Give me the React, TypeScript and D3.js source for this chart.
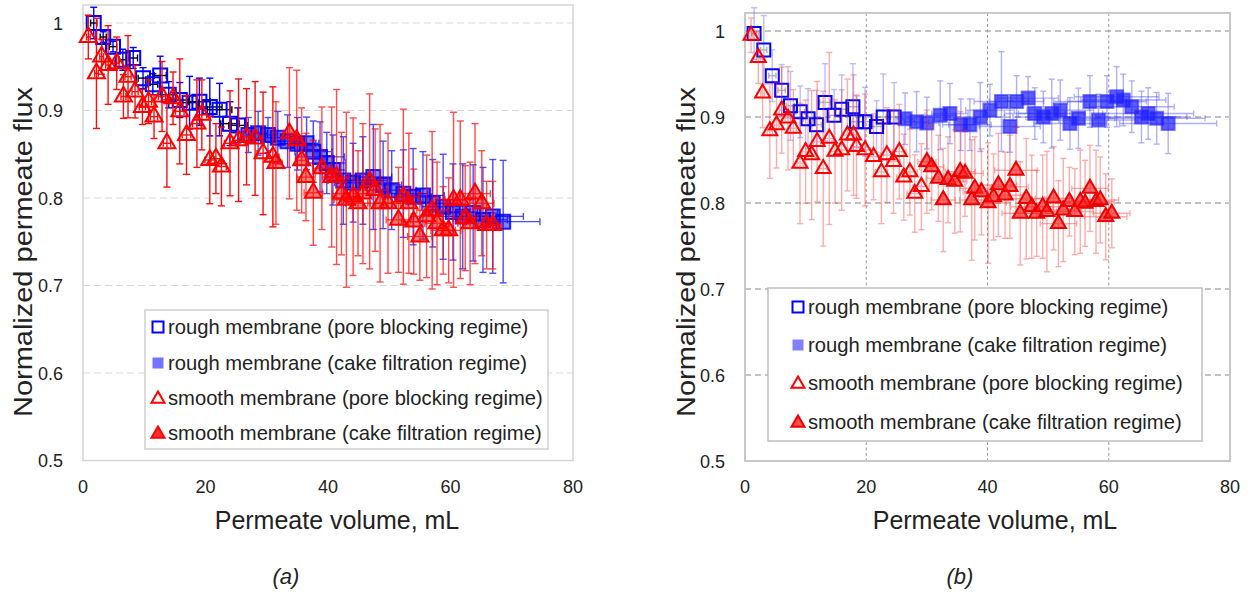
import React from 'react';
import * as d3 from 'd3';

// ---------- DATA: [volume mL, normalized flux, y error, x error] ----------
// Panel (a)
const aRoughPore: number[][] = [
  [1.75, 1.0, 0.018, 0.5], [3.3, 0.984, 0.006, 0.5], [4.9, 0.973, 0.006, 0.6], [6.5, 0.958, 0.012, 0.6],
  [8.2, 0.96, 0.012, 0.7], [9.8, 0.937, 0.012, 0.8], [11.4, 0.93, 0.012, 0.8], [12.6, 0.94, 0.022, 1.0],
  [14.0, 0.918, 0.015, 1.2], [15.8, 0.912, 0.02, 1.5], [17.4, 0.909, 0.03, 1.5], [19.0, 0.91, 0.027, 1.8],
  [20.7, 0.904, 0.033, 2.0], [22.3, 0.901, 0.03, 2.0], [24.0, 0.885, 0.025, 1.5], [25.3, 0.883, 0.02, 1.5],
];
const aRoughCake: number[][] = [
  [27.0, 0.872, 0.02, 1], [28.6, 0.874, 0.025, 1.5], [30.2, 0.872, 0.02, 1.5], [31.8, 0.869, 0.03, 2],
  [33.4, 0.865, 0.03, 2.5], [35.0, 0.862, 0.03, 3], [36.5, 0.8625, 0.03, 2], [37.6, 0.853, 0.035, 3],
  [38.7, 0.847, 0.04, 4], [39.8, 0.84, 0.035, 3], [40.8, 0.832, 0.04, 2], [42.5, 0.82, 0.05, 2.5],
  [44.1, 0.8175, 0.045, 3], [45.7, 0.82, 0.05, 4], [47.4, 0.824, 0.06, 3], [49.0, 0.815, 0.05, 3],
  [50.4, 0.809, 0.045, 4], [52.3, 0.805, 0.05, 4], [53.9, 0.8015, 0.055, 3], [55.5, 0.803, 0.05, 3.5],
  [57.1, 0.794, 0.05, 4], [58.8, 0.79, 0.06, 3.5], [60.4, 0.784, 0.055, 4], [62.0, 0.779, 0.06, 5],
  [63.7, 0.783, 0.055, 4], [65.3, 0.775, 0.06, 4], [66.9, 0.779, 0.065, 5], [68.6, 0.773, 0.07, 6],
];
const aSmoothPore: number[][] = [
  [0.87, 0.984, 0.025, 0.3], [2.2, 0.9425, 0.063, 0.3], [3.05, 0.9615, 0.02, 0.3], [4.1, 0.952, 0.045, 0.4],
  [5.5, 0.954, 0.03, 0.4], [6.6, 0.916, 0.025, 0.4], [7.35, 0.9386, 0.047, 0.5], [8.5, 0.9215, 0.03, 0.5],
  [9.7, 0.904, 0.02, 0.5], [10.7, 0.91, 0.025, 0.5], [11.6, 0.893, 0.025, 0.6], [12.9, 0.916, 0.04, 0.6],
  [13.7, 0.8625, 0.05, 0.6], [14.7, 0.914, 0.03, 0.6], [15.8, 0.899, 0.06, 0.7], [16.9, 0.872, 0.045, 0.7],
  [18.6, 0.885, 0.05, 0.7], [19.4, 0.895, 0.04, 0.8], [20.7, 0.8434, 0.05, 0.8], [21.7, 0.845, 0.04, 0.8],
  [22.6, 0.836, 0.045, 0.8], [24.0, 0.8625, 0.06, 0.9], [25.4, 0.866, 0.07, 0.9], [26.7, 0.87, 0.055, 1],
  [28.1, 0.868, 0.065, 1], [29.4, 0.851, 0.07, 1], [31.0, 0.847, 0.08, 1],
];
const aSmoothCake: number[][] = [
  [31.5, 0.84, 0.07, 1], [33.7, 0.874, 0.075, 1], [34.9, 0.866, 0.08, 1], [35.7, 0.843, 0.06, 1],
  [36.4, 0.824, 0.05, 1.5], [37.6, 0.806, 0.06, 1.5], [39.0, 0.834, 0.07, 1.5], [40.6, 0.824, 0.08, 1.5],
  [41.4, 0.824, 0.1, 2], [42.2, 0.805, 0.07, 1.5], [43.0, 0.798, 0.1, 2], [44.1, 0.8015, 0.09, 1.5],
  [44.9, 0.794, 0.06, 2], [45.7, 0.805, 0.08, 1.5], [46.8, 0.819, 0.1, 2], [47.7, 0.809, 0.07, 2],
  [48.5, 0.794, 0.09, 2], [49.8, 0.794, 0.08, 2], [51.5, 0.775, 0.06, 2], [52.3, 0.8015, 0.1, 2.5],
  [53.2, 0.794, 0.08, 2], [54.0, 0.773, 0.06, 2], [55.0, 0.756, 0.05, 2], [56.1, 0.779, 0.07, 2.5],
  [57.0, 0.786, 0.09, 2.5], [57.8, 0.771, 0.07, 2], [58.8, 0.763, 0.05, 2], [59.7, 0.763, 0.06, 2],
  [60.5, 0.798, 0.1, 3], [61.6, 0.798, 0.09, 2.5], [62.4, 0.777, 0.06, 2], [63.2, 0.771, 0.07, 2],
  [64.0, 0.805, 0.08, 2.5], [65.1, 0.794, 0.06, 2], [65.9, 0.769, 0.05, 2], [66.9, 0.769, 0.05, 1.5],
];

// Panel (b)
const bRoughPore: number[][] = [
  [1.5, 0.997, 0.03, 0.4], [3.1, 0.978, 0.04, 0.5], [4.5, 0.948, 0.03, 0.6], [6.05, 0.931, 0.03, 0.6],
  [7.5, 0.913, 0.04, 0.7], [9.1, 0.906, 0.03, 0.7], [10.4, 0.898, 0.035, 0.8], [11.8, 0.891, 0.04, 0.8],
  [13.2, 0.917, 0.045, 0.9], [14.7, 0.902, 0.03, 0.9], [15.95, 0.909, 0.04, 1], [17.8, 0.912, 0.05, 1],
  [18.4, 0.8945, 0.03, 1], [19.8, 0.8945, 0.04, 1.1], [21.7, 0.889, 0.03, 1.2], [22.8, 0.9, 0.05, 1.2],
  [24.6, 0.9, 0.04, 1.3],
];
const bRoughCake: number[][] = [
  [26.4, 0.898, 0.03, 1.5], [28.3, 0.8945, 0.035, 2], [30.0, 0.893, 0.03, 2], [32.2, 0.902, 0.04, 2.5],
  [33.8, 0.904, 0.035, 3], [35.6, 0.891, 0.03, 3], [37.1, 0.891, 0.03, 3.5], [38.8, 0.9, 0.04, 4],
  [40.4, 0.908, 0.03, 4], [42.3, 0.918, 0.058, 4.5], [43.7, 0.889, 0.03, 5], [44.8, 0.918, 0.03, 4.5],
  [46.7, 0.922, 0.025, 5], [47.8, 0.904, 0.03, 5], [49.2, 0.9, 0.03, 5], [50.6, 0.904, 0.04, 5.5],
  [52.0, 0.908, 0.035, 5.5], [53.6, 0.8925, 0.03, 6], [55.0, 0.8985, 0.035, 6], [56.9, 0.918, 0.03, 6],
  [58.3, 0.8965, 0.03, 6.5], [59.7, 0.918, 0.03, 6.5], [61.3, 0.9236, 0.035, 7], [62.4, 0.9198, 0.03, 7],
  [63.8, 0.912, 0.03, 7], [65.4, 0.9, 0.03, 7.5], [66.5, 0.904, 0.03, 7.5], [67.9, 0.8985, 0.03, 8],
  [69.8, 0.8925, 0.035, 8],
];
const bSmoothPore: number[][] = [
  [1.0, 0.995, 0.02, 0.3], [2.2, 0.969, 0.03, 0.3], [2.9, 0.9276, 0.04, 0.3], [4.1, 0.8837, 0.055, 0.4],
  [5.2, 0.8907, 0.05, 0.4], [6.05, 0.908, 0.05, 0.4], [7.1, 0.8985, 0.06, 0.5], [7.97, 0.8868, 0.045, 0.5],
  [9.07, 0.846, 0.07, 0.5], [10.0, 0.8597, 0.06, 0.6], [11.0, 0.8558, 0.075, 0.6], [11.9, 0.8713, 0.07, 0.6],
  [12.9, 0.84, 0.09, 0.7], [13.9, 0.875, 0.1, 0.7], [14.85, 0.86, 0.06, 0.7], [15.95, 0.8616, 0.07, 0.8],
  [16.9, 0.879, 0.065, 0.8], [17.9, 0.879, 0.07, 0.8], [18.4, 0.8655, 0.06, 0.9], [19.8, 0.8616, 0.065, 0.9],
  [21.2, 0.8538, 0.05, 1], [22.5, 0.836, 0.06, 1], [23.4, 0.8558, 0.055, 1], [24.5, 0.848, 0.06, 1.1],
  [25.45, 0.8597, 0.055, 1.1], [26.2, 0.83, 0.05, 1.2], [27.2, 0.836, 0.05, 1.2], [28.0, 0.811, 0.045, 1.3],
  [29.1, 0.819, 0.05, 1.3],
];
const bSmoothCake: number[][] = [
  [30.0, 0.848, 0.06, 1.5], [30.8, 0.842, 0.05, 2], [31.9, 0.8287, 0.05, 2], [32.7, 0.8035, 0.06, 2],
  [33.5, 0.827, 0.05, 2.5], [34.6, 0.825, 0.06, 2], [35.5, 0.8364, 0.07, 2.5], [36.3, 0.8345, 0.05, 3],
  [37.4, 0.8035, 0.07, 2], [37.9, 0.817, 0.06, 2.5], [39.0, 0.813, 0.05, 3], [40.1, 0.8, 0.07, 3],
  [41.0, 0.807, 0.05, 2.5], [41.8, 0.821, 0.06, 3], [42.9, 0.809, 0.05, 3], [43.7, 0.819, 0.06, 3],
  [44.7, 0.838, 0.05, 3.5], [45.4, 0.788, 0.06, 3], [46.4, 0.805, 0.07, 3], [47.3, 0.7957, 0.06, 3.5],
  [48.1, 0.788, 0.05, 3], [49.1, 0.7957, 0.06, 3], [49.8, 0.79, 0.07, 3.5], [50.9, 0.8055, 0.06, 3],
  [51.7, 0.776, 0.05, 3], [52.5, 0.7918, 0.06, 3], [53.5, 0.8015, 0.04, 3.5], [54.4, 0.79, 0.05, 3],
  [55.3, 0.8015, 0.06, 3], [56.1, 0.7996, 0.05, 3.5], [56.9, 0.817, 0.05, 3], [57.9, 0.8015, 0.06, 3],
  [58.6, 0.8035, 0.05, 3], [59.5, 0.784, 0.05, 3.5], [60.5, 0.788, 0.04, 3],
];

const xTicks = [0, 20, 40, 60, 80];
const yTicks = [0.5, 0.6, 0.7, 0.8, 0.9, 1];
const legendLabels = [
  'rough membrane (pore blocking regime)',
  'rough membrane (cake filtration regime)',
  'smooth membrane (pore blocking regime)',
  'smooth membrane (cake filtration regime)',
];

const FONT = "'Liberation Sans', Arial, sans-serif";

type MarkerKind = 'openSq' | 'fillSq' | 'openTri' | 'fillTri';

interface SeriesStyle {
  kind: MarkerKind;
  size: number;
  stroke: string;
  fill: string;
  strokeOpacity: number;
  fillOpacity: number;
  yErrColor: string;
  xErrColor: string;
  errOpacity: number;
}

function markerPath(kind: MarkerKind, s: number): string {
  if (kind === 'openSq' || kind === 'fillSq') {
    const h = s / 2;
    return `M${-h},${-h}H${h}V${h}H${-h}Z`;
  }
  const h = (s * Math.sqrt(3)) / 2;
  return `M0,${(-2 * h) / 3}L${s / 2},${h / 3}L${-s / 2},${h / 3}Z`;
}

interface PanelCfg {
  x0: number; x1: number; yBot: number; yOne: number; yMax: number;
  grid: 'a' | 'b';
  styles: SeriesStyle[];
  data: number[][][];
  legend: { x: number; y: number; w: number; h: number; rows: number[]; mx: number; tx: number };
  label: string; labelX: number;
  yTitleX: number; yTitleY: number; xTitleX: number;
}

function Panel({ cfg }: { cfg: PanelCfg }) {
  const x = d3.scaleLinear().domain([0, 80]).range([cfg.x0, cfg.x1]);
  const y = d3.scaleLinear().domain([0.5, 1]).range([cfg.yBot, cfg.yOne]);
  const top = y(cfg.yMax);
  const cap = cfg.grid === 'a' ? 3.5 : 3;
  const isA = cfg.grid === 'a';
  return (
    <g>
      {/* grid */}
      {yTicks.filter((t) => t > 0.5).map((t) => (
        <line key={'gy' + t} x1={cfg.x0} x2={cfg.x1} y1={y(t)} y2={y(t)}
          stroke={isA ? '#d9d9d9' : '#b0b0b0'} strokeWidth={isA ? 1.2 : 1.6} strokeDasharray={isA ? '7,4' : '6,4'} />
      ))}
      {!isA && xTicks.filter((t) => t > 0 && t < 80).map((t) => (
        <line key={'gx' + t} x1={x(t)} x2={x(t)} y1={top} y2={cfg.yBot}
          stroke="#9a9a9a" strokeWidth={1} strokeDasharray="3,2.5" />
      ))}
      {/* frame */}
      <rect x={cfg.x0} y={top} width={cfg.x1 - cfg.x0} height={cfg.yBot - top} fill="none"
        stroke={isA ? '#d4d4d4' : '#c8c8c8'} strokeWidth={isA ? 1.5 : 2} />
      {/* series */}
      {cfg.data.map((ser, si) => {
        const st = cfg.styles[si];
        return (
          <g key={'s' + si}>
            {ser.map((p, i) => {
              const cx = x(p[0]), cy = y(p[1]);
              const yt = y(p[1] + p[2]), yb = y(p[1] - p[2]);
              const xl = x(p[0] - p[3]), xr = x(p[0] + p[3]);
              return (
                <g key={'e' + i} strokeWidth={1.4} opacity={st.errOpacity}>
                  <line x1={cx} x2={cx} y1={yt} y2={yb} stroke={st.yErrColor} />
                  <line x1={cx - cap} x2={cx + cap} y1={yt} y2={yt} stroke={st.yErrColor} />
                  <line x1={cx - cap} x2={cx + cap} y1={yb} y2={yb} stroke={st.yErrColor} />
                  <line x1={xl} x2={xr} y1={cy} y2={cy} stroke={st.xErrColor} />
                  <line x1={xl} x2={xl} y1={cy - cap} y2={cy + cap} stroke={st.xErrColor} />
                  <line x1={xr} x2={xr} y1={cy - cap} y2={cy + cap} stroke={st.xErrColor} />
                </g>
              );
            })}
            {ser.map((p, i) => (
              <path key={'m' + i} d={markerPath(st.kind, st.size)}
                transform={`translate(${x(p[0])},${y(p[1])})`}
                fill={st.fill} fillOpacity={st.fillOpacity}
                stroke={st.stroke} strokeOpacity={st.strokeOpacity} strokeWidth={2} />
            ))}
          </g>
        );
      })}
      {/* tick labels */}
      {yTicks.map((t) => (
        <text key={'yt' + t} x={cfg.x0 - 20} y={y(t) + 6.5} textAnchor="end" fontSize={18} fill="#222"
          fontFamily={FONT}>{t === 1 ? '1' : d3.format('.1f')(t)}</text>
      ))}
      {xTicks.map((t) => (
        <text key={'xt' + t} x={x(t)} y={493} textAnchor="middle" fontSize={18} fill="#222"
          fontFamily={FONT}>{t}</text>
      ))}
      {/* axis titles */}
      <text x={cfg.xTitleX} y={529} textAnchor="middle" fontSize={25} fill="#222" fontFamily={FONT}>
        Permeate volume, mL
      </text>
      <text transform={`translate(${cfg.yTitleX},${cfg.yTitleY}) rotate(-90)`} textAnchor="middle"
        fontSize={26} fill="#222" fontFamily={FONT} textLength={330} lengthAdjust="spacingAndGlyphs">
        Normalized permeate flux
      </text>
      {/* legend */}
      <rect x={cfg.legend.x} y={cfg.legend.y} width={cfg.legend.w} height={cfg.legend.h} fill="#fff"
        stroke={isA ? '#d0d0d0' : '#c0c0c0'} strokeWidth={1.5} />
      {legendLabels.map((lab, i) => {
        const st = cfg.styles[i];
        const cy = cfg.legend.rows[i];
        return (
          <g key={'lg' + i}>
            <path d={markerPath(st.kind, st.kind.endsWith('Sq') ? 11 : 13)}
              transform={`translate(${cfg.legend.mx},${cy + (st.kind.endsWith('Tri') ? 1 : 0)})`}
              fill={st.kind === 'openSq' || st.kind === 'openTri' ? 'none' : st.fill}
              fillOpacity={st.kind === 'fillSq' ? 0.55 : 0.8}
              stroke={st.kind === 'fillSq' ? 'none' : st.stroke} strokeWidth={2} />
            <text x={cfg.legend.tx} y={cy + 7} fontSize={20.2} fill="#222" fontFamily={FONT}>{lab}</text>
          </g>
        );
      })}
      <text x={cfg.labelX} y={584} textAnchor="middle" fontSize={22} fontStyle="italic" fill="#222"
        fontFamily={FONT}>{cfg.label}</text>
    </g>
  );
}

const stylesA: SeriesStyle[] = [
  { kind: 'openSq', size: 14, stroke: '#0000ff', fill: 'none', strokeOpacity: 1, fillOpacity: 0, yErrColor: '#0000ff', xErrColor: '#000', errOpacity: 1 },
  { kind: 'fillSq', size: 14, stroke: '#0000ff', fill: '#0000ff', strokeOpacity: 0.85, fillOpacity: 0.5, yErrColor: '#0000ff', xErrColor: '#0000ff', errOpacity: 0.7 },
  { kind: 'openTri', size: 17, stroke: '#ff0000', fill: 'none', strokeOpacity: 1, fillOpacity: 0, yErrColor: '#ff0000', xErrColor: '#ff0000', errOpacity: 0.95 },
  { kind: 'fillTri', size: 17, stroke: '#ff0000', fill: '#ff0000', strokeOpacity: 1, fillOpacity: 0.5, yErrColor: '#ff0000', xErrColor: '#ff0000', errOpacity: 0.7 },
];
const stylesB: SeriesStyle[] = [
  { kind: 'openSq', size: 13, stroke: '#0000ff', fill: 'none', strokeOpacity: 1, fillOpacity: 0, yErrColor: '#6b6bff', xErrColor: '#555', errOpacity: 0.45 },
  { kind: 'fillSq', size: 13, stroke: '#2a2aff', fill: '#1a1aff', strokeOpacity: 0.6, fillOpacity: 0.7, yErrColor: '#3a3aff', xErrColor: '#3a3aff', errOpacity: 0.4 },
  { kind: 'openTri', size: 15, stroke: '#ff0000', fill: 'none', strokeOpacity: 1, fillOpacity: 0, yErrColor: '#ff3030', xErrColor: '#ff3030', errOpacity: 0.4 },
  { kind: 'fillTri', size: 15, stroke: '#ee0000', fill: '#ff2020', strokeOpacity: 1, fillOpacity: 0.65, yErrColor: '#ff3030', xErrColor: '#ff3030', errOpacity: 0.4 },
];

const panelA: PanelCfg = {
  x0: 83, x1: 573, yBot: 460.5, yOne: 23, yMax: 1.0206, grid: 'a', styles: stylesA,
  data: [aRoughPore, aRoughCake, aSmoothPore, aSmoothCake],
  legend: { x: 145, y: 310, w: 403, h: 139, rows: [327, 363, 398, 433], mx: 158, tx: 168 },
  label: '(a)', labelX: 286, yTitleX: 32, yTitleY: 252, xTitleX: 337,
};
const panelB: PanelCfg = {
  x0: 745, x1: 1230, yBot: 461, yOne: 31, yMax: 1.021, grid: 'b', styles: stylesB,
  data: [bRoughPore, bRoughCake, bSmoothPore, bSmoothCake],
  legend: { x: 768, y: 288, w: 434, h: 153, rows: [307, 345, 383, 422], mx: 798, tx: 808 },
  label: '(b)', labelX: 960, yTitleX: 695, yTitleY: 252, xTitleX: 995,
};

export default function App() {
  return (
    <svg width={1254} height={595} viewBox="0 0 1254 595"
      style={{ position: 'absolute', left: 0, top: 0, background: '#fff', display: 'block' }}>
      <rect width={1254} height={595} fill="#fff" />
      <Panel cfg={panelA} />
      <Panel cfg={panelB} />
    </svg>
  );
}
